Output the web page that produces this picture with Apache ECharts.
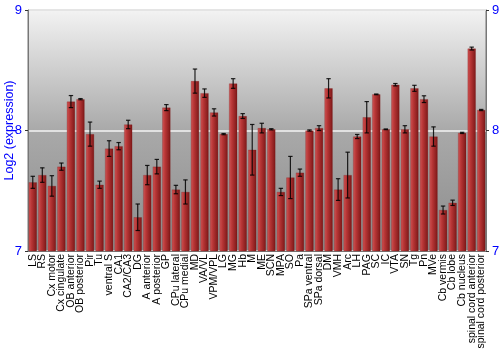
<!DOCTYPE html>
<html><head><meta charset="utf-8">
<script src="https://cdn.jsdelivr.net/npm/echarts@6/dist/echarts.min.js"></script>
<style>html,body{margin:0;padding:0;background:#fff}#c{width:500px;height:350px}</style>
</head><body><div id="c"></div>
<script>
var categories = ["LS","RS","Cx motor","Cx cingulate","OB anterior","OB posterior","Pir","Tu","ventral S","CA1","CA2/CA3","DG","A anterior","A posterior","GP","CPu lateral","CPu medial","MD","VA/VL","VPM/VPL","LG","MG","Hb","M","ME","SCN","MPA","SO","Pa","SPa ventral","SPa dorsal","DM","VMH","Arc","LH","PAG","SC","IC","VTA","SN","Tg","Pn","MVe","Cb vermis","Cb lobe","Cb nucleus","spinal cord anterior","spinal cord posterior"];
var values = [7.57,7.63,7.54,7.70,8.24,8.26,7.97,7.55,7.85,7.87,8.05,7.28,7.63,7.70,8.19,7.51,7.49,8.41,8.31,8.15,7.97,8.39,8.12,7.84,8.02,8.01,7.49,7.61,7.65,8.00,8.02,8.35,7.51,7.63,7.95,8.11,8.30,8.01,8.38,8.01,8.35,8.26,7.95,7.34,7.40,7.98,8.68,8.17];
var errors = [0.05,0.06,0.085,0.03,0.05,0.005,0.10,0.03,0.065,0.03,0.035,0.11,0.08,0.06,0.025,0.035,0.10,0.10,0.035,0.03,0.005,0.04,0.02,0.21,0.04,0.005,0.03,0.175,0.03,0.005,0.02,0.08,0.09,0.19,0.017,0.13,0.003,0.003,0.01,0.03,0.025,0.028,0.08,0.033,0.022,0.005,0.012,0.005];
var yTicks = [7,8,9];

var errData = values.map(function(v,i){return [i, v-errors[i], v+errors[i]];});
var chart = echarts.init(document.getElementById('c'));
var blue = '#0000ff';
var font = 'Liberation Sans, Arial, sans-serif';
chart.setOption({
  animation:false,
  grid:{left:28,right:14,top:10,bottom:99,containLabel:false,outerBoundsMode:'none',show:true,borderColor:'#777',borderWidth:1,
    backgroundColor:new echarts.graphic.LinearGradient(0,0,0,1,[
      {offset:0,color:'#f3f3f3'},{offset:0.5,color:'#a9a9a9'},{offset:1,color:'#8c8c8c'}])},
  xAxis:{type:'category',data:categories,
    axisLine:{show:true,lineStyle:{color:'#777'}},axisTick:{show:false},
    axisLabel:{interval:0,rotate:90,fontSize:10.5,color:'#000',fontFamily:font,margin:3}},
  yAxis:[
    {type:'value',min:7,max:9,interval:1,position:'left',
     name:'Log2 (expression)',nameLocation:'middle',nameGap:12,nameMoveOverlap:false,
     nameTextStyle:{color:blue,fontSize:12.5,fontFamily:font},
     axisLine:{show:true,lineStyle:{color:'#777'}},
     axisTick:{show:true,length:3,lineStyle:{color:'#333'}},
     axisLabel:{color:blue,fontSize:13,fontFamily:font,margin:6,
       formatter:function(v){return yTicks.indexOf(v)>=0?String(v):'';}},
     splitLine:{show:true,lineStyle:{color:'#f4f4f4',width:1.5}}},
    {type:'value',min:7,max:9,interval:1,position:'right',
     axisLine:{show:true,lineStyle:{color:'#777'}},
     axisTick:{show:true,length:3,lineStyle:{color:'#333'}},
     axisLabel:{color:blue,fontSize:13,fontFamily:font,margin:6},
     splitLine:{show:false}}
  ],
  series:[
    {type:'bar',data:values,barCategoryGap:'14%',
     itemStyle:{color:new echarts.graphic.LinearGradient(0,0,1,0,[
       {offset:0,color:'#cf5656'},{offset:0.35,color:'#b83636'},{offset:1,color:'#7c1717'}]),
       borderColor:'rgba(120,20,20,0.5)',borderWidth:0.5}},
    {type:'custom',data:errData,z:5,
     renderItem:function(params,api){
       var x=api.value(0);
       var lo=api.coord([x,api.value(1)]);
       var hi=api.coord([x,api.value(2)]);
       var hw=2.2;
       var st={stroke:'rgba(0,0,0,0.85)',lineWidth:1.2};
       return {type:'group',children:[
         {type:'line',shape:{x1:lo[0],y1:lo[1],x2:hi[0],y2:hi[1]},style:st},
         {type:'line',shape:{x1:lo[0]-hw,y1:lo[1],x2:lo[0]+hw,y2:lo[1]},style:st},
         {type:'line',shape:{x1:hi[0]-hw,y1:hi[1],x2:hi[0]+hw,y2:hi[1]},style:st}
       ]};
     }}
  ]
});
</script></body></html>
